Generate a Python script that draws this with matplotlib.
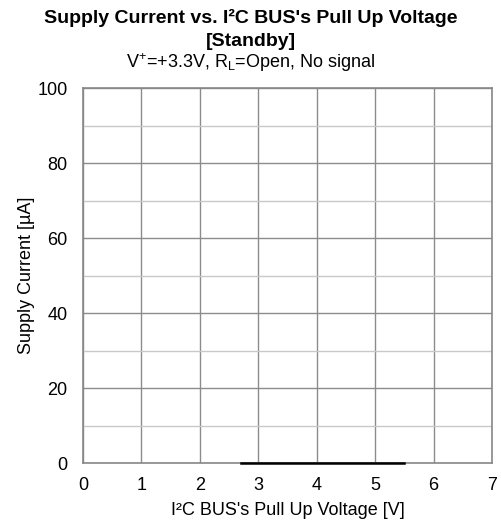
import matplotlib.pyplot as plt
from matplotlib.ticker import MultipleLocator

plt.rcParams['font.family'] = ['Liberation Sans', 'DejaVu Sans']
plt.rcParams['mathtext.fontset'] = 'custom'
plt.rcParams['mathtext.rm'] = 'Liberation Sans'
plt.rcParams['mathtext.it'] = 'Liberation Sans:italic'
plt.rcParams['mathtext.bf'] = 'Liberation Sans:bold'

# Standby current vs pull-up voltage (essentially zero)
pullup_v = [2.7, 3.0, 3.3, 3.6, 4.0, 4.5, 5.0, 5.5]
supply_ua = [0.0, 0.0, 0.0, 0.0, 0.0, 0.0, 0.0, 0.0]

x_ticks = [0, 1, 2, 3, 4, 5, 6, 7]
y_ticks = [0, 20, 40, 60, 80, 100]

fig = plt.figure(figsize=(5.01, 5.27), dpi=100)
ax = fig.add_axes([0.1657, 0.1205, 0.8164, 0.7125])

ax.plot(pullup_v, supply_ua, color='black', lw=1.8, clip_on=False, zorder=5)

ax.set_xlim(0, 7)
ax.set_ylim(0, 100)
ax.set_xticks(x_ticks)
ax.set_yticks(y_ticks)
ax.yaxis.set_minor_locator(MultipleLocator(10))
ax.grid(True, which='major', color='#8c8c8c', lw=1.0)
ax.grid(True, which='minor', axis='y', color='#c8c8c8', lw=1.0)
ax.set_axisbelow(True)
ax.tick_params(which='both', length=0, labelsize=13)
ax.tick_params(axis='x', pad=10)
ax.tick_params(axis='y', pad=11)
for s in ax.spines.values():
    s.set_color('#888888')
    s.set_linewidth(1.2)

ax.set_xlabel("I²C BUS's Pull Up Voltage [V]", fontsize=13, labelpad=5.5)
ax.set_ylabel("Supply Current [µA]", fontsize=13, labelpad=2)

fig.text(0.5, 0.956, "Supply Current vs. I²C BUS's Pull Up Voltage",
         ha='center', va='baseline', fontsize=14, fontweight='bold')
fig.text(0.5, 0.9127, "[Standby]",
         ha='center', va='baseline', fontsize=14, fontweight='bold')
fig.text(0.5, 0.871, "V$^{+}$=+3.3V, R$_{\\rm L}$=Open, No signal",
         ha='center', va='baseline', fontsize=13)

fig.savefig('out.png', dpi=100)
